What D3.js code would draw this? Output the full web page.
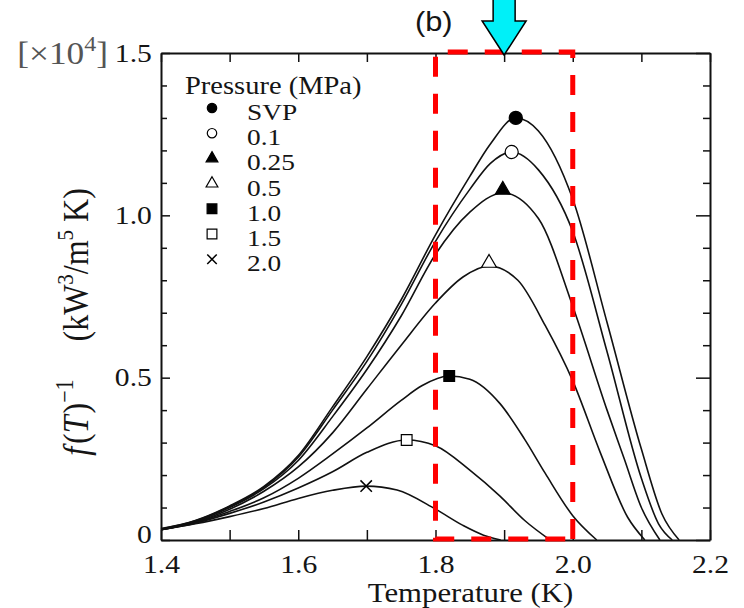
<!DOCTYPE html>
<html>
<head>
<meta charset="utf-8">
<script src="https://cdn.jsdelivr.net/npm/d3@7"></script>
<style>
  body { margin: 0; background: #fff; }
  svg { display: block; }
  text { font-family: "Liberation Serif", "Times New Roman", serif; fill: #151515; }
</style>
</head>
<body>
<div id="chart"></div>
<script>
const width = 744;
const height = 608;

// [temperature (K), f(T)^-1 (x10^4 kW^3/m^5 K)]
const pressures = ['SVP', '0.1', '0.25', '0.5', '1.0', '1.5', '2.0'];

const svp = [[1.40, 0.035], [1.45, 0.06], [1.50, 0.105], [1.55, 0.165], [1.60, 0.26], [1.65, 0.41],
    [1.70, 0.565], [1.75, 0.74], [1.80, 0.94], [1.85, 1.12], [1.88, 1.22], [1.917, 1.30],
    [1.95, 1.26], [2.00, 1.05], [2.05, 0.67], [2.10, 0.28], [2.13, 0.08], [2.155, 0]];
const p01 = [[1.40, 0.034], [1.45, 0.059], [1.50, 0.103], [1.55, 0.162], [1.60, 0.255], [1.65, 0.40],
    [1.70, 0.55], [1.75, 0.725], [1.80, 0.92], [1.85, 1.08], [1.88, 1.16], [1.911, 1.195],
    [1.95, 1.14], [2.00, 0.95], [2.05, 0.58], [2.10, 0.19], [2.125, 0.05], [2.145, 0]];
const p025 = [[1.40, 0.033], [1.45, 0.057], [1.50, 0.10], [1.55, 0.158], [1.60, 0.245], [1.65, 0.38],
    [1.70, 0.525], [1.75, 0.69], [1.80, 0.88], [1.85, 1.01], [1.898, 1.069], [1.95, 0.99],
    [2.00, 0.72], [2.05, 0.40], [2.075, 0.25], [2.10, 0.10], [2.127, 0]];
const p05 = [[1.40, 0.032], [1.45, 0.055], [1.50, 0.095], [1.55, 0.15], [1.60, 0.225], [1.65, 0.33],
    [1.70, 0.465], [1.75, 0.60], [1.80, 0.73], [1.84, 0.81], [1.878, 0.844], [1.92, 0.80],
    [1.96, 0.66], [2.00, 0.49], [2.04, 0.27], [2.08, 0.07], [2.105, 0]];
const p10 = [[1.40, 0.032], [1.45, 0.054], [1.50, 0.088], [1.55, 0.13], [1.60, 0.19], [1.65, 0.265],
    [1.70, 0.345], [1.75, 0.43], [1.78, 0.475], [1.82, 0.505], [1.85, 0.495], [1.894, 0.42],
    [1.93, 0.31], [1.96, 0.205], [2.00, 0.075], [2.035, 0]];
const p15 = [[1.40, 0.032], [1.45, 0.052], [1.50, 0.082], [1.55, 0.117], [1.60, 0.16], [1.65, 0.21],
    [1.70, 0.27], [1.758, 0.308], [1.80, 0.29], [1.85, 0.215], [1.894, 0.135], [1.93, 0.06], [1.967, 0]];
const p20 = [[1.40, 0.032], [1.45, 0.05], [1.50, 0.072], [1.55, 0.097], [1.60, 0.128], [1.65, 0.153],
    [1.699, 0.166], [1.744, 0.154], [1.80, 0.095], [1.84, 0.045], [1.87, 0.015], [1.895, 0]];

const curves = [svp, p01, p025, p05, p10, p15, p20];

const xTicks = [1.4, 1.5, 1.6, 1.7, 1.8, 1.9, 2.0, 2.1, 2.2];
const xLabels = ['1.4', '', '1.6', '', '1.8', '', '2.0', '', '2.2'];
const yTicks = [0, 0.1, 0.2, 0.3, 0.4, 0.5, 0.6, 0.7, 0.8, 0.9, 1.0, 1.1, 1.2, 1.3, 1.4, 1.5];
const yMajor = [0, 0.5, 1.0, 1.5];
const yLabels = ['0', '0.5', '1.0', '1.5'];

// highlighted window and arrow (K)
const boxT = [1.8, 2.0];
const arrowT = 1.9;

// marker look per pressure
const markerShape = ['circle', 'circle', 'triangle', 'triangle', 'square', 'square', 'times'];
const markerFill = [true, false, true, false, true, false, true];

const stretch = 'scale(1.14,1)';

const svg = d3.select('#chart')
    .append('svg')
    .attr('width', width)
    .attr('height', height);

const x = d3.scaleLinear().domain([1.4, 2.2]).range([161, 710]);
const y = d3.scaleLinear().domain([0, 1.5]).range([540, 53]);

// curves
const line = d3.line()
    .x(d => x(d[0]))
    .y(d => y(d[1]))
    .curve(d3.curveMonotoneX);

svg.append('g')
    .selectAll('path')
    .data(curves)
    .enter()
    .append('path')
    .attr('d', line)
    .attr('fill', 'none')
    .attr('stroke', '#111')
    .attr('stroke-width', 1.6);

function symbolPath(shape, size) {
    if (shape === 'times') {
        const h = Math.sqrt(size) / 2;
        return `M${-h},${-h}L${h},${h}M${-h},${h}L${h},${-h}`;
    }
    const type = shape === 'circle' ? d3.symbolCircle : shape === 'triangle' ? d3.symbolTriangle : d3.symbolSquare;
    return d3.symbol().type(type).size(size)();
}

const markerSize = { circle: 135, triangle: 95, square: 115, times: 130 };
const legendSize = { circle: 70, triangle: 60, square: 95, times: 90 };

function drawMarker(g, i, size) {
    const shape = markerShape[i];
    g.append('path')
        .attr('d', symbolPath(shape, size[shape]))
        .attr('fill', shape === 'times' ? 'none' : (markerFill[i] ? '#000' : '#fff'))
        .attr('stroke', '#000')
        .attr('stroke-width', shape === 'times' ? 1.5 : 1.2);
}

// markers at each curve maximum
curves.forEach((c, i) => {
    const top = d3.greatest(c, d => d[1]);
    const lift = markerShape[i] === 'triangle' ? -3 : 0;
    const g = svg.append('g')
        .attr('transform', `translate(${x(top[0])},${y(top[1]) + lift})`);
    drawMarker(g, i, markerSize);
});

// axes
function styleAxis(g) {
    g.attr('font-family', '"Liberation Serif", serif')
        .attr('font-size', 26)
        .attr('color', '#111');
    g.select('.domain').attr('stroke-width', 2);
    g.selectAll('.tick line').attr('stroke-width', 1.5);
    g.selectAll('.tick text').attr('transform', stretch);
}

svg.append('g')
    .attr('transform', `translate(0,${y(0)})`)
    .call(d3.axisBottom(x)
        .tickValues(xTicks)
        .tickSize(-10)
        .tickSizeOuter(0)
        .tickPadding(15)
        .tickFormat((d, i) => xLabels[i]))
    .call(styleAxis);

svg.append('g')
    .attr('transform', `translate(0,${y(1.5)})`)
    .call(d3.axisTop(x)
        .tickValues(xTicks)
        .tickSize(-9)
        .tickSizeOuter(0)
        .tickFormat(''))
    .call(styleAxis);

const isMajor = d => yMajor.some(m => Math.abs(m - d) < 1e-9);

svg.append('g')
    .attr('transform', `translate(${x(1.4)},0)`)
    .call(d3.axisLeft(y)
        .tickValues(yTicks)
        .tickSize(-6)
        .tickSizeOuter(0)
        .tickPadding(8)
        .tickFormat(d => isMajor(d) ? yLabels[yMajor.findIndex(m => Math.abs(m - d) < 1e-9)] : ''))
    .call(styleAxis)
    .call(g => g.selectAll('.tick line').attr('x2', d => isMajor(d) ? 9 : 6))
    .call(g => g.selectAll('.tick text').attr('dy', d => d === 0 ? '0.1em' : '0.32em'));

svg.append('g')
    .attr('transform', `translate(${x(2.2)},0)`)
    .call(d3.axisRight(y)
        .tickValues(yTicks)
        .tickSize(-7)
        .tickSizeOuter(0)
        .tickFormat(''))
    .call(styleAxis)
    .call(g => g.selectAll('.tick line').attr('x2', d => isMajor(d) ? -14 : -7));

// multiplier
svg.append('text')
    .attr('transform', `translate(108,64) ${stretch}`)
    .attr('text-anchor', 'end')
    .attr('font-size', 31)
    .style('fill', '#555')
    .call(t => {
        t.append('tspan').text('[×10');
        t.append('tspan').attr('dy', -13).attr('font-size', 21).text('4');
        t.append('tspan').attr('dy', 13).text(']');
    });

// axis titles
svg.append('text')
    .attr('transform', `translate(${(x(1.4) + x(2.2)) / 2 + 35},602) ${stretch}`)
    .attr('text-anchor', 'middle')
    .attr('font-size', 27)
    .text('Temperature (K)');

svg.append('text')
    .attr('transform', `translate(88,322) ${stretch} rotate(-90)`)
    .attr('text-anchor', 'middle')
    .attr('font-size', 32)
    .call(t => {
        t.append('tspan').attr('font-style', 'italic').text('f');
        t.append('tspan').attr('dx', 3).text('(');
        t.append('tspan').attr('font-style', 'italic').text('T');
        t.append('tspan').attr('dx', 2).text(')');
        t.append('tspan').attr('dy', -13).attr('font-size', 22).text('−1');
        t.append('tspan').attr('dy', 13).attr('dx', 38).text('(kW');
        t.append('tspan').attr('dy', -13).attr('font-size', 21).text('3');
        t.append('tspan').attr('dy', 13).text('/m');
        t.append('tspan').attr('dy', -13).attr('font-size', 21).text('5');
        t.append('tspan').attr('dy', 13).text(' K)');
    });

// legend
const legend = svg.append('g');

legend.append('text')
    .attr('transform', `translate(185,94) ${stretch}`)
    .attr('font-size', 25)
    .text('Pressure (MPa)');

pressures.forEach((p, i) => {
    const rowY = 108 + i * 25.2;
    drawMarker(legend.append('g').attr('transform', `translate(212,${rowY})`), i, legendSize);
    legend.append('text')
        .attr('transform', `translate(247,${rowY + 12}) ${stretch}`)
        .attr('font-size', 24)
        .text(p);
});

// red dashed window
const bx0 = x(boxT[0]), bx1 = x(boxT[1]);
const by0 = y(1.5) - 1, by1 = y(0) - 1;
svg.append('path')
    .attr('d', `M${bx1},${by1}L${bx1},${by0}L${bx0},${by0}L${bx0},${by1}L${bx1},${by1}`)
    .attr('fill', 'none')
    .attr('stroke', '#ff0000')
    .attr('stroke-width', 5)
    .attr('stroke-dasharray', '20,17');

// cyan arrow
const ax = x(arrowT);
const tipY = y(1.5) + 2;
svg.append('path')
    .attr('d', `M${ax - 11},-5L${ax + 11},-5L${ax + 11},${tipY - 34}L${ax + 22},${tipY - 34}` +
        `L${ax},${tipY}L${ax - 22},${tipY - 34}L${ax - 11},${tipY - 34}Z`)
    .attr('fill', '#00f0f8')
    .attr('stroke', '#000')
    .attr('stroke-width', 1.5);

svg.append('text')
    .attr('transform', `translate(415,31) ${stretch}`)
    .attr('font-size', 27)
    .style('font-family', '"Liberation Sans", Arial, sans-serif')
    .text('(b)');
</script>
</body>
</html>
